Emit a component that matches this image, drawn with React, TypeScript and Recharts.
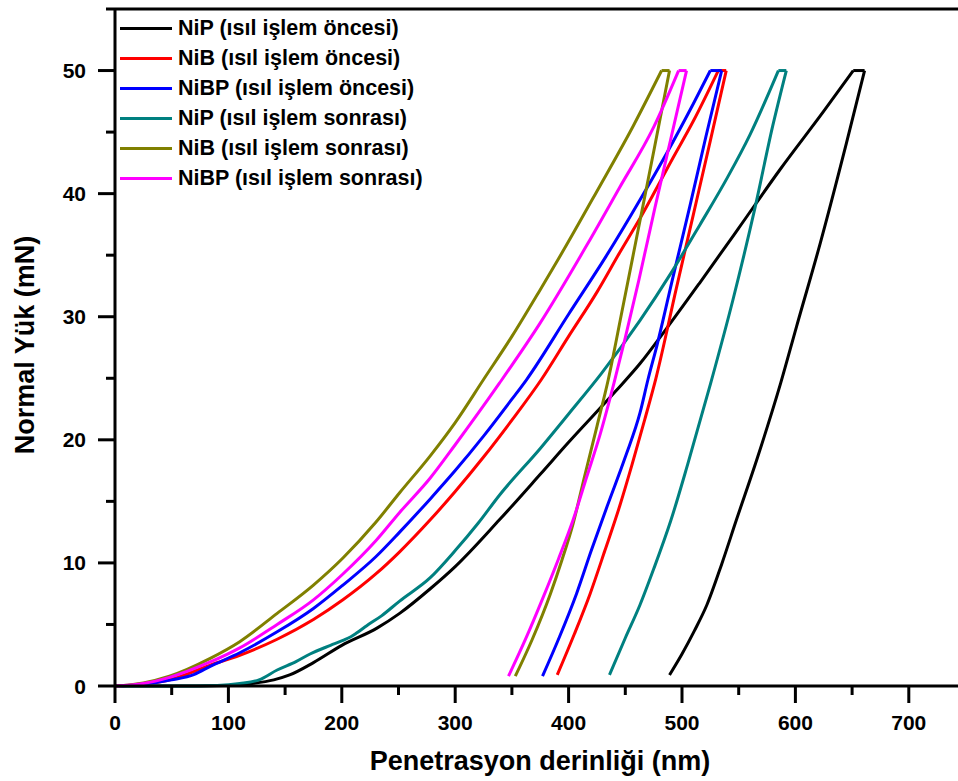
import React from 'react';
import { LineChart, Line, XAxis, YAxis, ReferenceLine, Legend, Label } from 'recharts';

// ---- tick values ----
const xTicks = [0, 50, 100, 150, 200, 250, 300, 350, 400, 450, 500, 550, 600, 650, 700, 750];
const xMajorTicks = [0, 100, 200, 300, 400, 500, 600, 700];
const yTicks = [0, 5, 10, 15, 20, 25, 30, 35, 40, 45, 50, 55];
const yMajorTicks = [0, 10, 20, 30, 40, 50];

// ---- series names / colours ----
const seriesNames = [
  'NiP (ısıl işlem öncesi)',
  'NiB (ısıl işlem öncesi)',
  'NiBP (ısıl işlem öncesi)',
  'NiP (ısıl işlem sonrası)',
  'NiB (ısıl işlem sonrası)',
  'NiBP (ısıl işlem sonrası)',
];
const seriesColors = ['#000000', '#ff0000', '#0000ff', '#008080', '#808000', '#ff00ff'];

// ---- data: penetration depth (nm) and normal load (mN); loading, peak hold, unloading ----
const nipOncesiDepth = [0, 50, 100, 120, 140, 154, 175, 200, 231, 251, 278, 300, 339, 375, 400, 442, 463, 486, 516, 550, 586, 625, 651, 661, 645, 622, 601, 587, 566, 548, 535, 522, 511, 500, 489];
const nipOncesiLoad = [0, 0, 0.05, 0.2, 0.5, 0.9, 1.9, 3.3, 4.7, 5.9, 7.9, 9.7, 13.5, 17.2, 19.8, 24.0, 26.2, 29.0, 32.8, 37.2, 41.9, 46.7, 50, 50, 44.1, 36.0, 29.2, 24.6, 18.4, 13.5, 9.9, 6.6, 4.5, 2.6, 0.9];

const nibOncesiDepth = [0, 25, 50, 84, 110, 143, 175, 201, 230, 251, 278, 300, 325, 350, 376, 400, 425, 445, 463, 492, 510, 532, 539, 525, 510, 495, 477, 467, 456, 445, 432, 419, 405, 390];
const nibOncesiLoad = [0, 0.15, 0.55, 1.7, 2.5, 3.8, 5.4, 7.0, 9.1, 10.9, 13.5, 15.8, 18.6, 21.6, 24.9, 28.4, 32.0, 35.2, 38.0, 42.9, 45.9, 50, 50, 44.3, 38.3, 32.3, 25.0, 21.6, 18.0, 14.6, 11.0, 7.5, 4.2, 0.9];

const nibpOncesiDepth = [0, 25, 50, 70, 84, 110, 143, 175, 201, 230, 251, 278, 300, 325, 350, 363, 400, 433, 463, 492, 510, 525, 535, 521, 507, 492, 478, 470, 463, 450, 434, 420, 407, 392, 377];
const nibpOncesiLoad = [0, 0.15, 0.5, 0.95, 1.6, 2.7, 4.4, 6.3, 8.2, 10.5, 12.5, 15.2, 17.5, 20.3, 23.3, 24.9, 30.2, 34.9, 39.5, 44.2, 47.3, 50, 50, 44.6, 39.0, 33.2, 27.7, 24.9, 22.2, 18.6, 14.6, 11.0, 7.5, 4.0, 0.8];

const nipSonrasiDepth = [0, 50, 90, 110, 127, 143, 160, 172, 190, 201, 208, 213, 222, 235, 251, 278, 300, 320, 339, 375, 400, 429, 463, 490, 516, 540, 560, 585, 592, 580, 564, 545, 525, 505, 490, 475, 463, 450, 436];
const nipSonrasiLoad = [0, 0, 0.05, 0.2, 0.5, 1.3, 2.0, 2.6, 3.3, 3.7, 4.0, 4.3, 4.9, 5.7, 6.9, 8.8, 11.0, 13.2, 15.5, 19.3, 22.1, 25.4, 29.7, 33.5, 37.5, 41.3, 44.8, 50, 50, 45.5, 38.7, 31.4, 24.5, 18.0, 13.4, 9.5, 6.6, 3.9, 0.9];

const nibSonrasiDepth = [0, 25, 48, 84, 110, 143, 175, 201, 230, 251, 278, 300, 325, 350, 375, 398, 425, 457, 482, 489, 475, 461, 447, 435, 425, 414, 404, 394, 384, 368, 353];
const nibSonrasiLoad = [0, 0.25, 0.8, 2.25, 3.6, 5.9, 8.2, 10.4, 13.3, 15.7, 18.7, 21.4, 24.9, 28.4, 32.2, 35.8, 40.2, 45.5, 50, 50, 43.4, 36.9, 30.4, 24.9, 21.1, 17.0, 13.2, 10.2, 7.5, 3.8, 0.8];

const nibpSonrasiDepth = [0, 25, 48, 84, 110, 143, 175, 201, 230, 251, 278, 300, 339, 375, 416, 445, 475, 497, 504, 490, 476, 462, 450, 440, 428, 416, 404, 391, 378, 362, 347];
const nibpSonrasiLoad = [0, 0.2, 0.7, 1.95, 3.1, 5.0, 7.0, 9.1, 11.8, 14.1, 16.9, 19.6, 24.6, 29.5, 35.8, 40.5, 45.4, 50, 50, 44.4, 38.8, 33.0, 28.3, 24.6, 20.5, 17.0, 13.5, 10.3, 7.3, 3.8, 0.8];

type Pt = { x: number; y: number };
const toPoints = (xs: number[], ys: number[]): Pt[] => xs.map((x, i) => ({ x, y: ys[i] }));

const seriesData = [
  toPoints(nipOncesiDepth, nipOncesiLoad),
  toPoints(nibOncesiDepth, nibOncesiLoad),
  toPoints(nibpOncesiDepth, nibpOncesiLoad),
  toPoints(nipSonrasiDepth, nipSonrasiLoad),
  toPoints(nibSonrasiDepth, nibSonrasiLoad),
  toPoints(nibpSonrasiDepth, nibpSonrasiLoad),
];

// split each loop into loading branch, peak hold and unloading branch (x ascending in each)
const splitLoop = (pts: Pt[]) => {
  const maxY = Math.max(...pts.map((p) => p.y));
  const first = pts.findIndex((p) => p.y === maxY);
  const last = first + 1;
  return {
    loading: pts.slice(0, first + 1),
    hold: pts.slice(first, last + 1),
    unloading: pts.slice(last).slice().reverse(),
  };
};

const FONT = '"Liberation Sans", Arial, Helvetica, sans-serif';
const PLOT_LEFT = 115;
const PLOT_BOTTOM = 686;
const CHART_W = 1000;
const CHART_H = 781;

const XTick = (props: any) => {
  const { x, payload } = props;
  const v = payload.value;
  const major = xMajorTicks.includes(v);
  return (
    <g>
      <line x1={x} x2={x} y1={PLOT_BOTTOM} y2={PLOT_BOTTOM + (major ? 17 : 9)} stroke="#000" strokeWidth={3} />
      {major && (
        <text x={x} y={PLOT_BOTTOM + 44} textAnchor="middle" fontFamily={FONT} fontWeight={700} fontSize={21} fill="#000">
          {v}
        </text>
      )}
    </g>
  );
};

const YTick = (props: any) => {
  const { y, payload } = props;
  const v = payload.value;
  const major = yMajorTicks.includes(v);
  return (
    <g>
      <line x1={PLOT_LEFT - (major ? 17 : 9)} x2={PLOT_LEFT} y1={y} y2={y} stroke="#000" strokeWidth={3} />
      {major && (
        <text x={PLOT_LEFT - 29} y={y + 7.5} textAnchor="end" fontFamily={FONT} fontWeight={700} fontSize={21} fill="#000">
          {v}
        </text>
      )}
    </g>
  );
};

const LegendContent = () => (
  <div style={{ fontFamily: FONT, fontWeight: 700, fontSize: 21.5, color: '#000' }}>
    {seriesNames.map((name, i) => (
      <div key={name} style={{ display: 'flex', alignItems: 'center', height: 30, whiteSpace: 'nowrap' }}>
        <div style={{ width: 52, height: 3, background: seriesColors[i], marginRight: 6 }} />
        <span style={{ lineHeight: '30px' }}>{name}</span>
      </div>
    ))}
  </div>
);

export default function App() {
  const segments: { key: string; data: Pt[]; color: string; curve: 'monotone' | 'linear'; name: string }[] = [];
  seriesData.forEach((d, i) => {
    const s = splitLoop(d);
    segments.push({ key: `${i}-load`, data: s.loading, color: seriesColors[i], curve: 'monotone', name: seriesNames[i] });
    segments.push({ key: `${i}-hold`, data: s.hold, color: seriesColors[i], curve: 'linear', name: seriesNames[i] });
    segments.push({ key: `${i}-unload`, data: s.unloading, color: seriesColors[i], curve: 'monotone', name: seriesNames[i] });
  });

  return (
    <div style={{ position: 'absolute', left: 0, top: 0, width: 958, height: 781, overflow: 'hidden', background: '#fff' }}>
      <LineChart width={CHART_W} height={CHART_H} margin={{ top: 9, right: 34.5, bottom: 35, left: 55 }}>
        <XAxis
          type="number"
          dataKey="x"
          domain={[0, 750]}
          ticks={xTicks}
          interval={0}
          tick={<XTick />}
          tickLine={false}
          axisLine={{ stroke: '#000', strokeWidth: 3 }}
          height={60}
        >
          <Label
            content={() => (
              <text x={540} y={770} textAnchor="middle" fontFamily={FONT} fontWeight={700} fontSize={27} fill="#000">
                Penetrasyon derinliği (nm)
              </text>
            )}
          />
        </XAxis>
        <YAxis
          type="number"
          domain={[0, 55]}
          ticks={yTicks}
          interval={0}
          tick={<YTick />}
          tickLine={false}
          axisLine={{ stroke: '#000', strokeWidth: 3 }}
          width={60}
        >
          <Label
            content={() => (
              <text
                x={34}
                y={345}
                transform="rotate(-90 34 345)"
                textAnchor="middle"
                fontFamily={FONT}
                fontWeight={700}
                fontSize={27}
                fill="#000"
              >
                Normal Yük (mN)
              </text>
            )}
          />
        </YAxis>
        <ReferenceLine y={55} stroke="#000" strokeWidth={3} />
        <Legend
          layout="vertical"
          align="center"
          verticalAlign="middle"
          content={<LegendContent />}
          wrapperStyle={{ position: 'absolute', left: 120, top: 13, width: 420, height: 180 }}
        />
        {segments.map((s) => (
          <Line
            key={s.key}
            data={s.data}
            dataKey="y"
            name={s.name}
            legendType="none"
            type={s.curve}
            stroke={s.color}
            strokeWidth={3}
            strokeLinejoin="round"
            dot={false}
            activeDot={false}
            isAnimationActive={false}
          />
        ))}
      </LineChart>
    </div>
  );
}
